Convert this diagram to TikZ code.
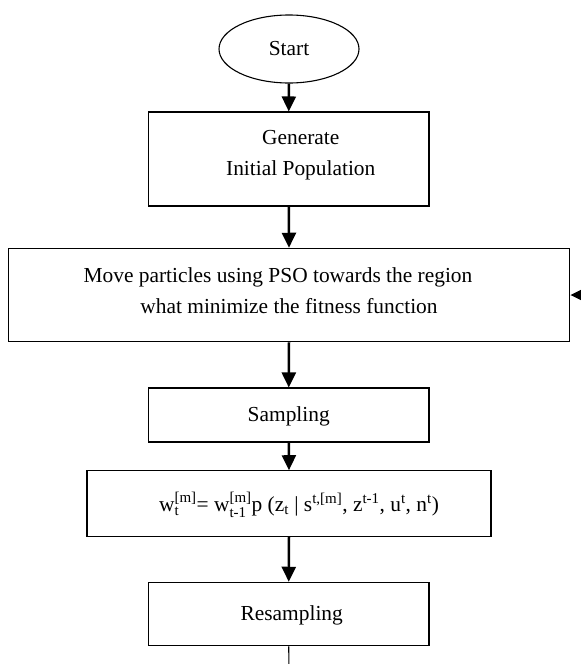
\documentclass[tikz,border=0pt]{standalone}
\usepackage{fontspec}
\setmainfont{Liberation Serif}
\usepackage{amsmath}
\usetikzlibrary{arrows.meta,shapes.geometric}
\begin{document}
\begin{tikzpicture}[x=1pt,y=-1pt,
  every node/.style={font=\fontsize{21.4}{31}\selectfont},
  stepbox/.style={draw, rectangle, line width=1.1pt, inner sep=0pt},
  flow/.style={line width=2.5pt, -{Triangle[length=15pt,width=14pt]}}]
\useasboundingbox (0,0) rectangle (581,664);

% start terminal
\node[draw, ellipse, line width=1.1pt, inner sep=0pt,
      minimum width=140pt, minimum height=68pt] (start) at (289,49) {Start};

% process boxes
\node[stepbox, minimum width=280.5pt, minimum height=94pt,
      label={[align=center, xshift=12pt, yshift=3.5pt]center:{Generate\\Initial Population}}]
      (gen) at (288.75,159) {};
\node[stepbox, minimum width=561.6pt, minimum height=93.4pt,
      label={[align=center, yshift=4.5pt]center:{Move particles using PSO towards the region\hspace*{22pt}\\what minimize the fitness function}}]
      (move) at (289,295) {};
\node[stepbox, minimum width=280.5pt, minimum height=54pt,
      label={[yshift=-1.5pt]center:Sampling}]
      (samp) at (288.75,415) {};
\node[stepbox, minimum width=404pt, minimum height=65.5pt,
      label={[xshift=10pt, yshift=-1pt]center:{w$^{\text{[m]}}_{\text{t}}$= w$^{\text{[m]}}_{\text{t-1}}$p (z$_{\text{t}}$ | s$^{\text{t,[m]}}$, z$^{\text{t-1}}$, u$^{\text{t}}$, n$^{\text{t}}$)}}]
      (form) at (289,503.5) {};
\node[stepbox, minimum width=280.5pt, minimum height=63.4pt,
      label={[xshift=3pt, yshift=-1pt]center:Resampling}]
      (resamp) at (288.75,614) {};

% loose ends of the feedback path
\coordinate (loopin) at (612,295);
\coordinate (loopout) at (289,680);

% connectors
\draw[flow] (start.south) -- (gen.north);
\draw[flow] (gen.south) -- (move.north);
\draw[flow] (move.south) -- (samp.north);
\draw[flow] (samp.south) -- (form.north);
\draw[flow] (form.south) -- (resamp.north);
\draw[flow] (loopin) -- (move.east);
\draw[line width=1.1pt] (resamp.south) -- (loopout);
\end{tikzpicture}
\end{document}
